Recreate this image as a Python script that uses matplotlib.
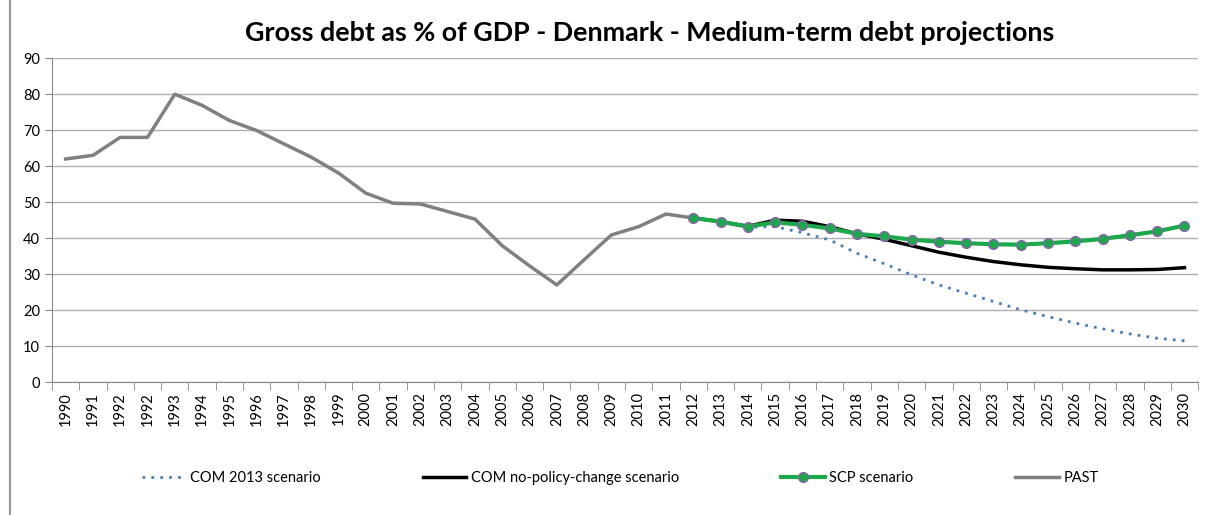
import numpy as np
import matplotlib
matplotlib.use('Agg')
import matplotlib.pyplot as plt
from matplotlib.patches import Rectangle

plt.rcParams['font.family'] = ['Lato', 'DejaVu Sans']

years = ['1990', '1991', '1992', '1992'] + [str(y) for y in range(1993, 2031)]

past = [62.0, 63.0, 68.0, 68.0, 80.0, 76.9, 72.7, 69.9, 66.2, 62.5, 58.1, 52.5,
        49.7, 49.5, 47.4, 45.3, 37.9, 32.3, 27.0, 34.0, 40.9, 43.2, 46.7, 45.6]
# projections start in 2012
scp = [45.6, 44.6, 43.2, 44.4, 43.7, 42.7, 41.2, 40.5, 39.6, 39.0, 38.6, 38.3,
       38.2, 38.6, 39.1, 39.8, 40.8, 41.9, 43.5]
com_npc = [45.6, 44.6, 43.3, 45.0, 44.7, 43.2, 41.2, 39.7, 37.9, 36.1, 34.7, 33.5,
           32.6, 31.9, 31.5, 31.2, 31.2, 31.3, 31.8]
com_2013 = [45.6, 44.6, 43.0, 43.2, 41.5, 39.5, 35.8, 32.9, 29.8, 27.0, 24.7, 22.4,
            20.1, 18.2, 16.4, 14.8, 13.4, 12.2, 11.5]

n = len(years)
x = np.arange(n)
x_past = x[:len(past)]
x_proj = x[len(past) - 1:]

fig = plt.figure(figsize=(12.09, 5.15), dpi=100)
ax = fig.add_axes([0.043, 0.258, 0.948, 0.629])

ax.plot(x_proj, com_2013, color='#4a7ebb', lw=2, ls=(0, (1, 2.2)), label='COM 2013 scenario', zorder=3)
ax.plot(x_proj, com_npc, color='black', lw=2.5, label='COM no-policy-change scenario', zorder=4)
ax.plot(x_proj, scp, color='#1aaa4a', lw=3, marker='o', ms=7, mfc='#1aaa4a',
        mec='#8e5fb0', mew=1, label='SCP scenario', zorder=5)
ax.plot(x_past, past, color='#808080', lw=2.5, label='PAST', zorder=3)

ax.set_xlim(-0.5, n - 0.5)
ax.set_ylim(0, 90)
ax.set_yticks(range(0, 91, 10))
ax.yaxis.grid(True, color='#b0b0b0', lw=1)
ax.set_axisbelow(True)
ax.set_xticks(x)
ax.set_xticklabels(years, rotation=90, fontsize=10.5)
ax.set_xticks(np.arange(-0.5, n, 1), minor=True)
ax.tick_params(axis='x', which='major', length=0, pad=7)
ax.tick_params(axis='x', which='minor', length=6, color='#888888')
ax.tick_params(axis='y', length=5, color='#888888', labelsize=10.5)
for s in ['top', 'right']:
    ax.spines[s].set_visible(False)
for s in ['left', 'bottom']:
    ax.spines[s].set_color('#888888')

fig.text(0.537, 0.936, 'Gross debt as % of GDP - Denmark - Medium-term debt projections',
         fontsize=19.4, fontweight='bold', ha='center', va='center')

fig.legend(loc='center', bbox_to_anchor=(0.513, 0.072), ncol=4, frameon=False,
           fontsize=10.5, columnspacing=7.0, handlelength=3.0, handletextpad=0.3)

fig.patches.append(Rectangle((0.008, -0.01), 1.0, 1.02, transform=fig.transFigure,
                             fill=False, ec='#999999', lw=1.5))

fig.savefig('out.png', dpi=100)
